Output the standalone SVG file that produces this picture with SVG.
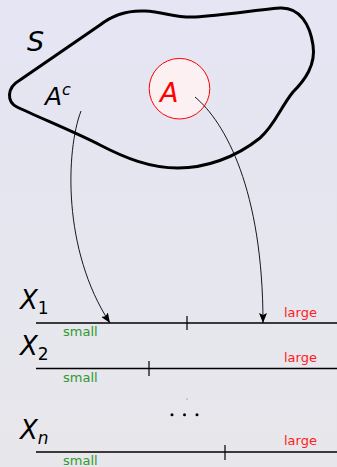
<svg xmlns="http://www.w3.org/2000/svg" width="337" height="467" viewBox="0 0 337 467">
<defs>
<linearGradient id="bg" x1="0" y1="0" x2="0" y2="1">
<stop offset="0" stop-color="#e5e5f4"/>
<stop offset="1" stop-color="#e7e7eb"/>
</linearGradient>
<marker id="ah" viewBox="0 0 10 8" refX="10" refY="4" markerWidth="10" markerHeight="8" markerUnits="userSpaceOnUse" orient="auto">
<path d="M0,0 L10,4 L0,8 L2,4 Z" fill="#000"/>
</marker>
</defs>
<style>
.m{font-family:"DejaVu Sans",sans-serif;font-style:italic;}
.sub{font-family:"DejaVu Sans",sans-serif;}
.lbl{font-family:"DejaVu Sans",sans-serif;font-size:13px;}
.axis{stroke:#000;stroke-width:1.3;fill:none;}
.tick{stroke:#000;stroke-width:1.2;}
.conn{stroke:#000;stroke-width:0.9;fill:none;marker-end:url(#ah);}
</style>
<rect width="337" height="467" fill="url(#bg)"/>
<g id="S">
<path d="M20,80 L100,25 C110,17 125,10 145,11 C165,12 175,18 195,17 C225,15 255,10 280,8 C300,7 310,25 313,45 C316,65 305,80 293,92 C280,108 275,125 260,138 C235,158 205,168 178,168 C150,168 125,158 100,145 C75,132 40,118 17,107 C7,102 6,88 20,80 Z" fill="none" stroke="#000" stroke-width="3" stroke-linejoin="round"/>
<text class="m" x="27" y="51" font-size="27">S</text>
</g>
<g id="A">
<circle cx="179.5" cy="88.7" r="30.3" fill="#fcf0f2" stroke="#ff0000" stroke-width="1"/>
<text class="m" x="160" y="102" font-size="27" fill="#ff0000">A</text>
</g>
<g id="Ac">
<text class="m" x="45" y="105" font-size="25">A<tspan font-size="16" dy="-10">c</tspan></text>
</g>
<g id="connectors">
<path class="conn" d="M81,111 C66,150 62,250 110,323"/>
<path class="conn" d="M195,97 C225,122 263,190 263,323"/>
</g>
<g id="X1">
<text class="m" x="20" y="309" font-size="26">X<tspan class="sub" font-style="normal" font-size="17" dy="5">1</tspan></text>
<line class="axis" x1="36" y1="323" x2="337" y2="323"/>
<line class="tick" x1="187" y1="316" x2="187" y2="330"/>
<text class="lbl" x="284" y="317" fill="#ff2020">large</text>
<text class="lbl" x="63" y="336" fill="#2e9a2e">small</text>
</g>
<g id="X2">
<text class="m" x="20" y="355" font-size="26">X<tspan class="sub" font-style="normal" font-size="17" dy="5">2</tspan></text>
<line class="axis" x1="36" y1="368.5" x2="337" y2="368.5" stroke="#333"/>
<line class="tick" x1="149" y1="361" x2="149" y2="376"/>
<text class="lbl" x="284" y="362" fill="#ff2020">large</text>
<text class="lbl" x="63" y="382" fill="#2e9a2e">small</text>
</g>
<g id="dots">
<circle cx="187" cy="399" r="0.5" fill="#555"/>
<circle cx="172" cy="414.7" r="1.5" fill="#000"/>
<circle cx="184.5" cy="414.7" r="1.5" fill="#000"/>
<circle cx="197" cy="414.7" r="1.5" fill="#000"/>
</g>
<g id="Xn">
<text class="m" x="20" y="439" font-size="26">X<tspan font-size="17" dy="5">n</tspan></text>
<line class="axis" x1="36" y1="452" x2="337" y2="452" stroke="#333"/>
<line class="tick" x1="225" y1="445" x2="225" y2="460"/>
<text class="lbl" x="284" y="445" fill="#ff2020">large</text>
<text class="lbl" x="63" y="465" fill="#2e9a2e">small</text>
</g>
</svg>
